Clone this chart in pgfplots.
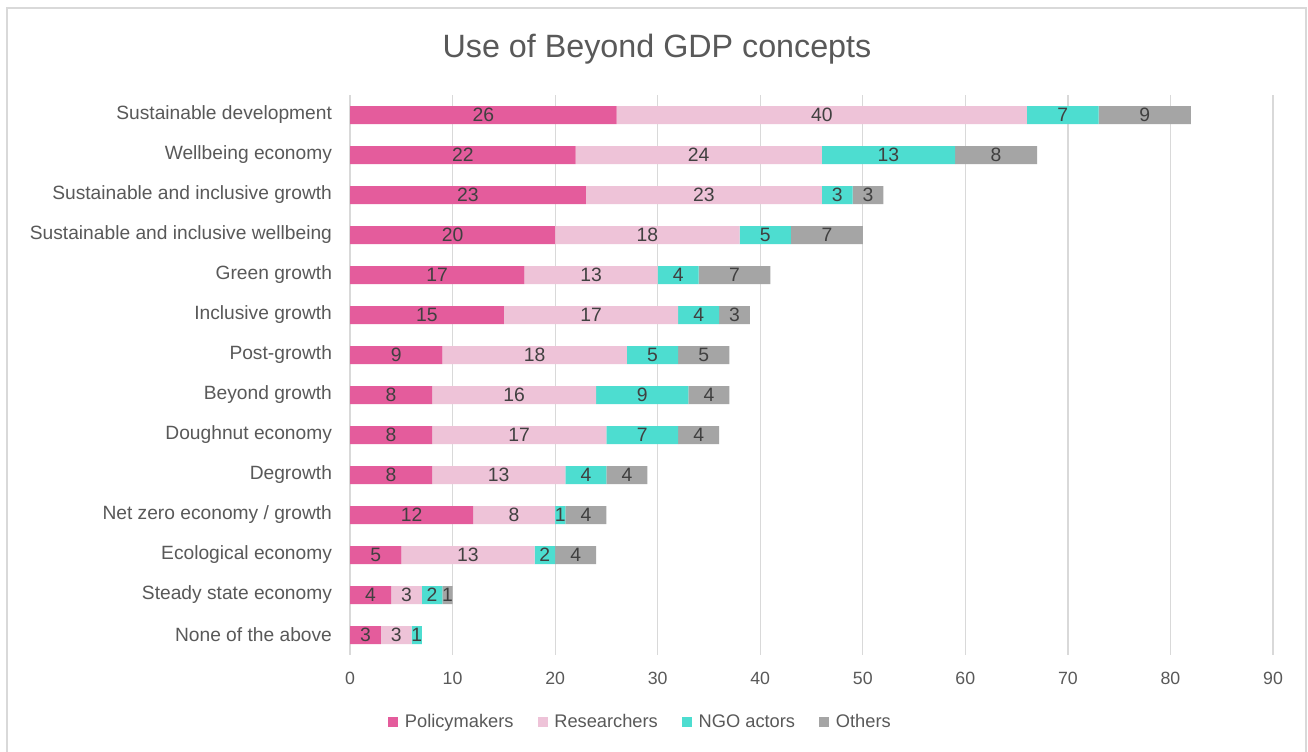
\documentclass[border=0pt]{standalone}
\usepackage{pgfplots}
\pgfplotsset{compat=1.18}
\usepackage{pgfplotstable}
\usepackage{fontspec}
\setmainfont{Liberation Sans}
\definecolor{cPol}{HTML}{E45C9C}
\definecolor{cRes}{HTML}{EEC3D8}
\definecolor{cNgo}{HTML}{4DDDD0}
\definecolor{cOth}{HTML}{A5A5A5}
\definecolor{txt}{HTML}{595959}
\definecolor{lbl}{HTML}{404040}
\definecolor{grd}{HTML}{D9D9D9}

\pgfplotstableread{
idx p r n o
0 26 40 7 9
1 22 24 13 8
2 23 23 3 3
3 20 18 5 7
4 17 13 4 7
5 15 17 4 3
6 9 18 5 5
7 8 16 9 4
8 8 17 7 4
9 8 13 4 4
10 12 8 1 4
11 5 13 2 4
12 4 3 2 1
13 3 3 1 0
}\data

\pgfplotsset{
  common/.style={
    at={(608.625pt,282pt)}, anchor=center,
    scale only axis, width=692.25pt, height=420pt,
    xmin=0, xmax=90, ymin=-0.5, ymax=13.5, y dir=reverse,
    /pgf/number format/assume math mode=true,
  }
}

\begin{document}
\begin{tikzpicture}[x=0.75pt,y=0.75pt]
\useasboundingbox[fill=white] (0,0) rectangle (1308,751);
\draw[grd, line width=1pt] (7,-10) -- (7,743) -- (1306,743) -- (1306,-10);
\node[font=\fontsize{24.2}{28}\selectfont, text=txt] at (657,702) {Use of Beyond GDP concepts};

\begin{axis}[common,
  xbar stacked, bar width=13.5pt,
  axis line style={draw=none},
  tick style={draw=none},
  xmajorgrids, major grid style={grd, line width=0.9pt},
  xtick={0,10,...,90},
  ytick={0,...,13},
  yticklabels={Sustainable development, Wellbeing economy, Sustainable and inclusive growth, Sustainable and inclusive wellbeing, Green growth, Inclusive growth, Post-growth, Beyond growth, Doughnut economy, Degrowth, Net zero economy / growth, Ecological economy, Steady state economy, None of the above},
  yticklabel style={font=\fontsize{14.4}{17}\selectfont, text=txt, xshift=-10pt},
  xticklabel style={font=\fontsize{13.3}{15}\selectfont, text=txt, yshift=-9pt},
  legend style={at={(0.315,-0.12)}, anchor=center, legend columns=-1, draw=none,
    font=\fontsize{13.7}{16}\selectfont, text=txt,
    /tikz/every even column/.append style={column sep=16pt}},
  legend image code/.code={\fill[#1] (0pt,-3.8pt) rectangle (7.6pt,3.8pt); \path (10.6pt,0pt);},
]
\addplot[fill=cPol, draw=none] table[x=p, y=idx]{\data};
\addplot[fill=cRes, draw=none] table[x=r, y=idx]{\data};
\addplot[fill=cNgo, draw=none] table[x=n, y=idx]{\data};
\addplot[fill=cOth, draw=none] table[x=o, y=idx]{\data};
\legend{Policymakers, Researchers, NGO actors, Others}
\end{axis}

\begin{axis}[common, hide axis,
  point meta=explicit,
  nodes near coords,
  every node near coord/.append style={anchor=center, font=\fontsize{14.5}{17}\selectfont, text=lbl, inner sep=0pt},
]
\addplot[draw=none, mark=none] table[x expr=\thisrow{p}/2, y=idx, meta=p]{\data};
\addplot[draw=none, mark=none] table[x expr=\thisrow{p}+\thisrow{r}/2, y=idx, meta=r]{\data};
\addplot[draw=none, mark=none] table[x expr=\thisrow{p}+\thisrow{r}+\thisrow{n}/2, y=idx, meta=n]{\data};
\addplot[draw=none, mark=none, restrict expr to domain={\thisrow{o}}{0.5:1000}] table[x expr=\thisrow{p}+\thisrow{r}+\thisrow{n}+\thisrow{o}/2, y=idx, meta=o]{\data};
\end{axis}
\end{tikzpicture}
\end{document}
